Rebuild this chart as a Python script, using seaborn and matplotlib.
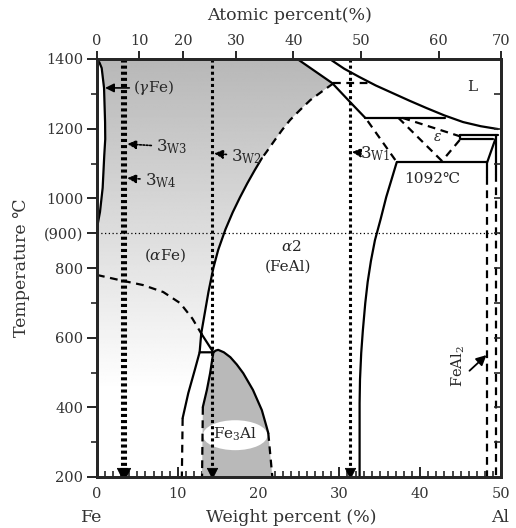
import numpy as np
import pandas as pd
import matplotlib
matplotlib.use('Agg')
import matplotlib.pyplot as plt
import seaborn as sns
from matplotlib.patches import Polygon, Ellipse

sns.set_style('white')
plt.rcParams['font.family'] = ['DejaVu Serif', 'DejaVu Sans']
plt.rcParams['mathtext.fontset'] = 'dejavuserif'

# ---------------- data ----------------
wt_ticks = [0, 10, 20, 30, 40, 50]
at_labels = [0, 10, 20, 30, 40, 50, 60, 70]
at_pos_wt = [0, 5.2, 10.7, 17.2, 24.3, 32.7, 42.3, 50.0]
temp_ticks = [200, 400, 600, 800, 900, 1000, 1200, 1400]
temp_labels = ['200', '400', '600', '800', '(900)', '1000', '1200', '1400']

gamma_wt = [0, 0.3, 0.58, 0.87, 1.0, 1.02, 0.9, 0.7, 0.37, 0]
gamma_T = [1397, 1390, 1374, 1317, 1219, 1170, 1124, 1030, 961, 915]

solidus_wt = [24.8, 29.1, 31.3, 33.2]
solidus_T = [1400, 1331, 1277, 1231]

liquidus_wt = [28.8, 30.6, 32.5, 34.5, 36.6, 38.7, 40.8, 43.0, 45.3, 47.5, 49.6]
liquidus_T = [1400, 1372, 1348, 1324, 1302, 1280, 1259, 1238, 1219, 1207, 1199]

a2_dash_wt = [29.25, 27.8, 26.4, 25.1, 23.9, 22.9, 22.0, 21.0, 20.4]
a2_dash_T = [1330, 1306, 1282, 1253, 1225, 1196, 1167, 1134, 1115]
a2_solid_wt = [20.4, 19.5, 18.6, 17.7, 16.8, 15.9, 15.0, 14.4, 13.8, 13.35, 12.9]
a2_solid_T = [1115, 1080, 1043, 1003, 960, 911, 852, 800, 732, 672, 612]

b2_wt = [0, 2.85, 5.7, 8.2, 10.3, 11.8, 12.9]
b2_T = [780, 765, 751, 731, 699, 655, 612]

tri_wt = [12.9, 14.4, 12.7, 12.9]
tri_T = [612, 558, 558, 612]

left3_solid_wt = [12.7, 12.1, 11.3, 10.6]
left3_solid_T = [558, 507, 441, 369]
left3_dash_wt = [10.6, 10.5]
left3_dash_T = [369, 200]

fe3al_left_wt = [14.4, 14.0, 13.6, 13.1]
fe3al_left_T = [558, 498, 450, 401]
fe3al_left_dash_wt = [13.1, 13.0]
fe3al_left_dash_T = [401, 200]
fe3al_right_wt = [14.4, 14.7, 15.0, 15.7, 16.5, 17.3, 18.1, 19.3, 20.4, 21.0, 21.2]
fe3al_right_T = [558, 563, 565, 558, 544, 523, 498, 450, 392, 343, 326]
fe3al_right_dash_wt = [21.2, 21.7]
fe3al_right_dash_T = [326, 200]

a2r_wt = [37.1, 36.4, 35.8, 35.1, 34.4, 33.9, 33.5, 33.2, 32.9, 32.7, 32.55, 32.5, 32.5]
a2r_T = [1104, 1050, 1004, 940, 880, 820, 760, 699, 620, 556, 480, 412, 200]

h1331_wt = [29.25, 33.5]
h1331_T = [1331, 1331]
h1231_wt = [33.2, 43.1]
h1231_T = [1231, 1231]
h1104_wt = [37.1, 48.3]
h1104_T = [1104, 1104]
a2eps_wt = [33.5, 37.1]
a2eps_T = [1222, 1104]
epsA_wt = [37.3, 42.7]
epsA_T = [1231, 1107]
epsB_wt = [37.8, 45.2, 42.7]
epsB_T = [1231, 1176, 1107]
h1182_wt = [44.9, 49.6]
h1182_T = [1182, 1182]
h1170_wt = [44.9, 44.9, 49.0]
h1170_T = [1182, 1170, 1170]
diag_wt = [49.3, 48.3]
diag_T = [1170, 1104]
v483_solid_wt = [48.3, 48.3]
v483_solid_T = [1104, 1060]
v483_dash_wt = [48.3, 48.3]
v483_dash_T = [1060, 200]
v494_solid_wt = [49.4, 49.4]
v494_solid_T = [1182, 1070]
v494_dash_wt = [49.4, 49.4]
v494_dash_T = [1070, 200]

wire_names = ['3W3', '3W4', '3W2', '3W1']
wire_wt = [3.05, 3.5, 14.27, 31.3]

# ---------------- figure ----------------
fig = plt.figure(figsize=(5.16, 5.28), dpi=100)
ax = fig.add_axes([97 / 516, 1 - 477 / 528, 404 / 516, 418 / 528])
ax.set_xlim(0, 50)
ax.set_ylim(200, 1400)

# gradient region (alpha Fe)
grad_T = np.linspace(200, 1400, 300)
grad_v = np.clip(0.72 + (1400 - grad_T) / 950 * 0.28, 0, 1)
img = ax.imshow(grad_v[:, None] * np.ones((1, 10)), extent=[0, 50, 200, 1400], origin='lower',
                aspect='auto', cmap='gray', vmin=0, vmax=1, zorder=0, interpolation='bilinear')
poly_pts = ([(0, 1400)] + list(zip(solidus_wt[:2], solidus_T[:2])) + list(zip(a2_dash_wt, a2_dash_T)) +
            list(zip(a2_solid_wt, a2_solid_T)) + [(12.7, 558)] + list(zip(left3_solid_wt, left3_solid_T)) +
            [(10.5, 200), (0, 200)])
clip = Polygon(poly_pts, closed=True, transform=ax.transData, facecolor='none', edgecolor='none')
ax.add_patch(clip)
img.set_clip_path(clip)

# gamma loop interior white
ax.add_patch(Polygon(list(zip(gamma_wt, gamma_T)), closed=True, facecolor='white', edgecolor='none', zorder=1))

# Fe3Al region
fe_pts = ([(13.0, 200)] + list(zip(fe3al_left_wt[::-1], fe3al_left_T[::-1])) +
          list(zip(fe3al_right_wt, fe3al_right_T)) + [(21.7, 200)])
ax.add_patch(Polygon(fe_pts, closed=True, facecolor='#b9b9b9', edgecolor='none', zorder=1))
ax.add_patch(Ellipse((17.1, 320), 8.0, 86, facecolor='white', edgecolor='none', zorder=2))

DASH = (0, (3.5, 2.5))


def seg(xs, ys, ls='-', lw=1.6, z=3):
    sns.lineplot(x=xs, y=ys, sort=False, estimator=None, color='black', linewidth=lw,
                 linestyle=ls, ax=ax, zorder=z)


seg(gamma_wt, gamma_T)
seg(solidus_wt, solidus_T)
seg(liquidus_wt, liquidus_T)
seg(a2_dash_wt, a2_dash_T, DASH)
seg(a2_solid_wt, a2_solid_T)
seg(b2_wt, b2_T, DASH)
seg(tri_wt, tri_T)
seg(left3_solid_wt, left3_solid_T)
seg(left3_dash_wt, left3_dash_T, DASH)
seg(fe3al_left_wt, fe3al_left_T)
seg(fe3al_left_dash_wt, fe3al_left_dash_T, DASH)
seg(fe3al_right_wt, fe3al_right_T)
seg(fe3al_right_dash_wt, fe3al_right_dash_T, DASH)
seg(a2r_wt, a2r_T)
seg(h1331_wt, h1331_T, DASH)
seg(h1231_wt, h1231_T)
seg(h1104_wt, h1104_T)
seg(a2eps_wt, a2eps_T, DASH)
seg(epsA_wt, epsA_T, DASH)
seg(epsB_wt, epsB_T, DASH)
seg(h1182_wt, h1182_T)
seg(h1170_wt, h1170_T)
seg(diag_wt, diag_T)
seg(v483_solid_wt, v483_solid_T)
seg(v483_dash_wt, v483_dash_T, DASH)
seg(v494_solid_wt, v494_solid_T)
seg(v494_dash_wt, v494_dash_T, DASH)

# 900 dotted line
seg([0, 50], [900, 900], (0, (1, 2)), lw=0.9, z=2)

# wire dotted verticals with arrowheads
for w in wire_wt:
    seg([w, w], [1400, 214], (0, (1, 1)), lw=2.2, z=4)
sns.scatterplot(x=wire_wt, y=[212] * len(wire_wt), marker='v', s=55, color='black',
                edgecolor='black', ax=ax, zorder=5, legend=False)

# labels with arrows
dot_arrow = dict(arrowstyle='-|>', linestyle=(0, (1, 1)), lw=1.2, color='black',
                 mutation_scale=13, shrinkA=1, shrinkB=0)
ax.annotate('3$_{\\mathrm{W3}}$', xy=(3.75, 1156), xytext=(7.3, 1148), fontsize=12,
            va='center', ha='left', arrowprops=dot_arrow, zorder=6)
ax.annotate('3$_{\\mathrm{W4}}$', xy=(3.75, 1058), xytext=(5.9, 1052), fontsize=12,
            va='center', ha='left', arrowprops=dot_arrow, zorder=6)
ax.annotate('3$_{\\mathrm{W2}}$', xy=(14.5, 1129), xytext=(16.6, 1121), fontsize=12,
            va='center', ha='left', arrowprops=dot_arrow, zorder=6)
ax.annotate('3$_{\\mathrm{W1}}$', xy=(31.55, 1133), xytext=(32.6, 1127), fontsize=12,
            va='center', ha='left', arrowprops=dot_arrow, zorder=6)
ax.annotate('($\\gamma$Fe)', xy=(1.0, 1317), xytext=(4.4, 1317), fontsize=11,
            va='center', ha='left', zorder=6,
            arrowprops=dict(arrowstyle='-|>', lw=1.2, color='black', mutation_scale=13, shrinkA=0, shrinkB=0))
ax.text(44.7, 519, 'FeAl$_2$', fontsize=10.5, rotation=90, ha='center', va='center', zorder=6)
ax.annotate('', xy=(48.2, 550), xytext=(46.1, 505), zorder=6,
            arrowprops=dict(arrowstyle='-|>', lw=1.3, color='black', mutation_scale=15, shrinkA=0, shrinkB=0))

ax.text(8.5, 837, '($\\alpha$Fe)', fontsize=11, ha='center', va='center', zorder=6)
ax.text(24.0, 863, '$\\alpha$2', fontsize=11, ha='center', va='center', zorder=6)
ax.text(23.7, 803, '(FeAl)', fontsize=11, ha='center', va='center', zorder=6)
ax.text(46.4, 1320, 'L', fontsize=11, ha='center', va='center', zorder=6)
ax.text(42.1, 1176, '$\\epsilon$', fontsize=10, ha='center', va='center', zorder=6)
ax.text(41.5, 1056, '1092℃', fontsize=11, ha='center', va='center', zorder=6)
ax.text(17.1, 322, 'Fe$_3$Al', fontsize=11, ha='center', va='center', zorder=6)

# axes styling
for s in ax.spines.values():
    s.set_linewidth(1.8)
    s.set_color('black')
ax.set_xticks(wt_ticks)
ax.set_xticklabels([str(v) for v in wt_ticks], fontsize=10.5, color='#333333')
ax.set_xticks(np.arange(0, 51, 1), minor=True)
ax.tick_params(axis='x', which='major', direction='in', length=7, width=1.4, bottom=True, pad=7)
ax.tick_params(axis='x', which='minor', direction='in', length=4, width=1.2, bottom=True)
ax.set_yticks(temp_ticks)
ax.set_yticklabels(temp_labels, fontsize=10.5, color='#333333')
ax.set_yticks(np.arange(300, 1400, 100), minor=True)
ax.tick_params(axis='y', which='major', direction='out', length=7, width=1.4, left=True, pad=3)
ax.tick_params(axis='y', which='minor', direction='out', length=4, width=1.2, left=True)

axr = ax.twinx()
axr.set_ylim(200, 1400)
axr.set_yticks(np.arange(200, 1401, 100))
axr.set_yticklabels([])
axr.tick_params(axis='y', direction='in', length=5, width=1.2, right=True)
axr.grid(False)

axt = ax.twiny()
axt.set_xlim(0, 50)
axt.set_xticks(at_pos_wt)
axt.set_xticklabels([str(v) for v in at_labels], fontsize=10.5, color='#333333')
axt.tick_params(axis='x', direction='out', length=6, width=1.4, top=True, pad=2)
axt.grid(False)
for a in (axr, axt):
    for s in a.spines.values():
        s.set_linewidth(1.8)

ax.set_ylabel('Temperature ℃', fontsize=12.5, color='#333333', labelpad=10)
fig.text(290 / 516, 1 - 16 / 528, 'Atomic percent(%)', fontsize=12.5, ha='center', va='center', color='#333333')
fig.text(291 / 516, 1 - 518 / 528, 'Weight percent (%)', fontsize=12.5, ha='center', va='center', color='#333333')
fig.text(92 / 516, 1 - 518 / 528, 'Fe', fontsize=12.5, ha='center', va='center', color='#333333')
fig.text(500 / 516, 1 - 518 / 528, 'Al', fontsize=12.5, ha='center', va='center', color='#333333')

fig.savefig('out.png', dpi=100)
